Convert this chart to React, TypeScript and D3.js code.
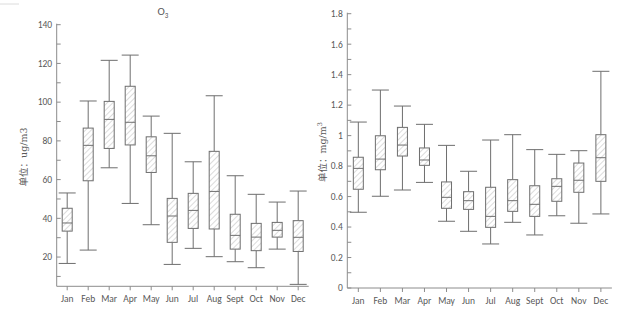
import React from "react";
import * as d3 from "d3";

const months = ["Jan", "Feb", "Mar", "Apr", "May", "Jun", "Jul", "Aug", "Sept", "Oct", "Nov", "Dec"];

// O3 (ug/m3): [min, q1, median, q3, max]
const o3Min = [16.7, 23.6, 66.1, 47.7, 36.7, 16.2, 24.5, 20.2, 17.6, 14.5, 24.1, 5.9];
const o3Q1 = [33.4, 59.4, 76.1, 77.9, 63.7, 27.6, 34.8, 34.5, 24.1, 23.3, 30.3, 22.9];
const o3Med = [37.6, 77.7, 91.1, 89.6, 72.3, 41.2, 44.1, 53.9, 31.2, 30.3, 33.8, 30.2];
const o3Q3 = [45.2, 86.6, 100.4, 108.2, 82.1, 50.3, 52.9, 74.6, 42.1, 37.4, 37.9, 38.8];
const o3Max = [53.1, 100.6, 121.6, 124.3, 92.8, 83.9, 69.2, 103.3, 62.0, 52.4, 48.4, 54.1];
const o3Ticks = [20, 40, 60, 80, 100, 120, 140];

// CO (mg/m3)
const coMin = [0.497, 0.602, 0.643, 0.693, 0.438, 0.372, 0.289, 0.431, 0.348, 0.474, 0.425, 0.486];
const coQ1 = [0.648, 0.776, 0.866, 0.805, 0.523, 0.516, 0.398, 0.503, 0.47, 0.569, 0.628, 0.7];
const coMed = [0.785, 0.846, 0.938, 0.84, 0.595, 0.573, 0.47, 0.573, 0.549, 0.667, 0.707, 0.855];
const coQ3 = [0.858, 0.999, 1.054, 0.919, 0.696, 0.632, 0.661, 0.711, 0.671, 0.717, 0.82, 1.006];
const coMax = [1.089, 1.299, 1.194, 1.074, 0.936, 0.766, 0.971, 1.006, 0.908, 0.877, 0.901, 1.422];
const coTicks = [0, 0.2, 0.4, 0.6, 0.8, 1, 1.2, 1.4, 1.6, 1.8];

const AXIS = "#8c8c8c";
const BOX = "#6e6e6e";
const TXT = "#595959";
const FONT = "Calibri, Carlito, 'Liberation Sans', 'Noto Sans CJK SC', sans-serif";
const LABEL_FONT = "'DejaVu Serif', 'Noto Sans CJK SC', serif";

type PanelProps = {
  x0: number; x1: number; yTop: number; yBottom: number;
  domain: [number, number]; ticks: number[]; minorTicks: number[];
  mins: number[]; q1s: number[]; meds: number[]; q3s: number[]; maxs: number[];
  fmt: (v: number) => string; pid: string;
};

function Panel(p: PanelProps) {
  const x = d3.scaleBand<string>().domain(months).range([p.x0, p.x1]).padding(0);
  const y = d3.scaleLinear().domain(p.domain).range([p.yBottom, p.yTop]);
  const bw = 10;
  const cw = 17;
  return (
    <g>
      <line x1={p.x0} x2={p.x0} y1={p.yTop - 1} y2={p.yBottom} stroke={AXIS} />
      <line x1={p.x0} x2={p.x1} y1={p.yBottom} y2={p.yBottom} stroke={AXIS} />
      {p.ticks.map((t) => (
        <g key={"t" + t}>
          <line x1={p.x0} x2={p.x0 + 4} y1={y(t)} y2={y(t)} stroke={AXIS} />
          <text x={p.x0 - 4.5} y={y(t)} dy="0.35em" textAnchor="end" fontSize={9.5} fill={TXT} fontFamily={FONT}>
            {p.fmt(t)}
          </text>
        </g>
      ))}
      {p.minorTicks.map((t) => (
        <line key={"m" + t} x1={p.x0} x2={p.x0 + 4} y1={y(t)} y2={y(t)} stroke={AXIS} />
      ))}
      {months.map((m, i) => {
        const cx = (x(m) as number) + x.bandwidth() / 2;
        return (
          <g key={m}>
            <line x1={cx} x2={cx} y1={p.yBottom} y2={p.yBottom + 4} stroke={AXIS} />
            <text x={cx} y={p.yBottom + 16} textAnchor="middle" fontSize={9.5} fill={TXT} fontFamily={FONT}>
              {m}
            </text>
            <line x1={cx} x2={cx} y1={y(p.maxs[i])} y2={y(p.q3s[i])} stroke={BOX} />
            <line x1={cx} x2={cx} y1={y(p.q1s[i])} y2={y(p.mins[i])} stroke={BOX} />
            <line x1={cx - cw / 2} x2={cx + cw / 2} y1={y(p.maxs[i])} y2={y(p.maxs[i])} stroke={BOX} />
            <line x1={cx - cw / 2} x2={cx + cw / 2} y1={y(p.mins[i])} y2={y(p.mins[i])} stroke={BOX} />
            <rect x={cx - bw / 2} y={y(p.q3s[i])} width={bw} height={y(p.q1s[i]) - y(p.q3s[i])}
              fill={`url(#hatch-${p.pid})`} stroke={BOX} />
            <line x1={cx - bw / 2} x2={cx + bw / 2} y1={y(p.meds[i])} y2={y(p.meds[i])} stroke={BOX} />
          </g>
        );
      })}
    </g>
  );
}

export default function App() {
  const hatch = (id: string) => (
    <pattern id={id} patternUnits="userSpaceOnUse" width={4} height={4} patternTransform="rotate(45)">
      <rect width={4} height={4} fill="white" />
      <line x1={0} y1={0} x2={0} y2={4} stroke="#c4c4c4" strokeWidth={1.2} />
    </pattern>
  );
  return (
    <svg width={624} height={323} style={{ position: "absolute", left: 0, top: 0, background: "white" }}>
      <defs>
        {hatch("hatch-a")}
        {hatch("hatch-b")}
      </defs>
      <rect width={624} height={323} fill="white" />
      <line x1={0} x2={19} y1={4} y2={4} stroke="#dcdcdc" />
      <text x={163} y={15} textAnchor="middle" fontSize={11} fill={TXT} fontFamily={FONT}>
        O<tspan fontSize={7} dy={3}>3</tspan>
      </text>
      <Panel x0={56.7} x1={308.7} yTop={24.7} yBottom={286.3} domain={[4.9, 140]}
        ticks={o3Ticks} minorTicks={[10, 30, 50, 70, 90, 110, 130]}
        mins={o3Min} q1s={o3Q1} meds={o3Med} q3s={o3Q3} maxs={o3Max}
        fmt={(v) => String(v)} pid="a" />
      <text transform="translate(27,157) rotate(-90)" textAnchor="middle" fontSize={9.5} fill={TXT} fontFamily={LABEL_FONT}>
        单位：ug/m3
      </text>
      <Panel x0={347.3} x1={611.9} yTop={13.7} yBottom={288} domain={[0, 1.8]}
        ticks={coTicks} minorTicks={[0.1, 0.3, 0.5, 0.7, 0.9, 1.1, 1.3, 1.5, 1.7]}
        mins={coMin} q1s={coQ1} meds={coMed} q3s={coQ3} maxs={coMax}
        fmt={(v) => String(v)} pid="b" />
      <text transform="translate(326,152) rotate(-90)" textAnchor="middle" fontSize={9.5} fill={TXT} fontFamily={LABEL_FONT}>
        单位：mg/m<tspan fontSize={6.5} dy={-4}>3</tspan>
      </text>
    </svg>
  );
}
